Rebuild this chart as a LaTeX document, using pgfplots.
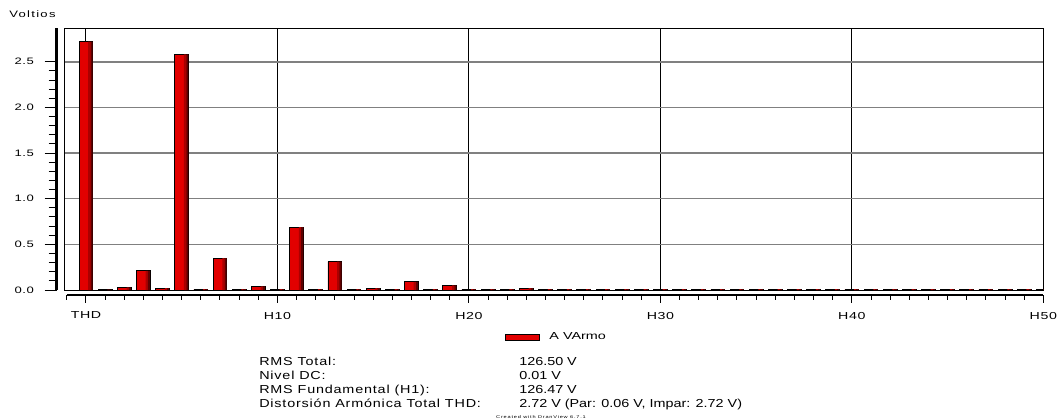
\documentclass[border=0pt]{standalone}
\usepackage{pgfplots}
\usepackage{pgfplotstable}
\pgfplotsset{compat=1.18}
\usepackage{fontspec}
\setmainfont{Liberation Sans}
\newfontfamily\tickfont[FakeStretch=1.4, LetterSpace=6]{Liberation Sans}
\newfontfamily\voltfont[FakeStretch=1.4, LetterSpace=14]{Liberation Sans}
\newfontfamily\statfont[FakeStretch=1.24]{Liberation Sans}
\newfontfamily\statlabfont[FakeStretch=1.24, LetterSpace=7]{Liberation Sans}
\newfontfamily\legfont[FakeStretch=1.42]{Liberation Sans}
\newfontfamily\tinyfont[FakeStretch=1.4, LetterSpace=20]{Liberation Sans}
\definecolor{barred}{RGB}{226,0,0}
\definecolor{bardk1}{RGB}{170,0,0}
\definecolor{bardk2}{RGB}{95,0,0}

\pgfplotstableread{
x y
0 2.72
1 0.005
2 0.03
3 0.21
4 0.02
5 2.58
6 0.01
7 0.35
8 0.01
9 0.04
10 0.01
11 0.69
12 0.01
13 0.31
14 0.01
15 0.02
16 0.01
17 0.09
18 0.01
19 0.05
20 0.01
21 0.01
22 0.01
23 0.02
24 0.01
25 0.01
26 0.01
27 0.01
28 0.01
29 0.01
30 0.01
31 0.01
32 0.01
33 0.01
34 0.01
35 0.01
36 0.01
37 0.01
38 0.01
39 0.01
40 0.01
41 0.01
42 0.01
43 0.01
44 0.01
45 0.01
46 0.01
47 0.01
48 0.01
49 0.01
50 0.01
}\harm

\begin{document}
\begin{tikzpicture}[x=0.75pt,y=-0.75pt]
\useasboundingbox (0,0) rectangle (1059,420);
% main plot area
\begin{axis}[
  at={(48.225pt,-217.5pt)}, anchor=south west, scale only axis,
  width=734.25pt, height=196.5pt,
  xmin=-1.13, xmax=50, ymin=0, ymax=2.87,
  axis line style={black, line width=0.75pt},
  xtick={0,10,20,30,40}, ytick={0.5,1,1.5,2,2.5},
  xticklabels={}, yticklabels={}, major tick length=0pt,
  xmajorgrids, ymajorgrids,
  x grid style={black, line width=0.75pt},
  y grid style={gray, line width=1.1pt},
  legend style={draw=none, fill=none, inner sep=0pt, at={(0.450,-0.181)}, anchor=west,
    font=\legfont\fontsize{7.6}{9}\selectfont,
    /tikz/every odd column/.append style={column sep=5pt}},
  legend image code/.code={\draw[black, fill=barred, line width=0.75pt] (0pt,-2.4pt) rectangle (25.5pt,2.4pt);},
]
\addplot[ybar, bar width=0.72, bar shift=0, draw=black, line width=0.6pt, fill=barred]
  table[x=x,y=y]{\harm};
\addlegendentry{A VArmo}
\addplot[ybar, forget plot, bar width=0.12, bar shift=0.18, draw=none, fill=bardk1]
  table[x=x,y=y]{\harm};
\addplot[ybar, forget plot, bar width=0.11, bar shift=0.295, draw=none, fill=bardk2]
  table[x=x,y=y]{\harm};
\end{axis}
% y ruler
\begin{axis}[
  at={(42.4pt,-217.5pt)}, anchor=south west, scale only axis,
  width=1pt, height=196.5pt, xmin=0, xmax=1, ymin=0, ymax=2.87,
  axis x line=none, axis y line*=left,
  y axis line style={line width=2.6pt, -},
  ytick={0,0.5,...,2.5}, minor y tick num=4,
  tick align=outside, major tick length=9pt, minor tick length=6pt,
  tick style={black, line width=0.75pt},
  yticklabel style={font=\tickfont\fontsize{7}{8}\selectfont, xshift=-4.5pt,
    /pgf/number format/.cd, fixed, fixed zerofill, precision=1, assume math mode=true},
]
\end{axis}
% x ruler
\begin{axis}[
  at={(50.1pt,-221.25pt)}, anchor=south west, scale only axis,
  width=732.4pt, height=1pt, xmin=-1, xmax=50, ymin=0, ymax=1,
  axis y line=none, axis x line*=bottom,
  x axis line style={line width=2.2pt, -},
  xtick={0,10,20,30,40,50}, xticklabels={THD,H10,H20,H30,H40,H50},
  minor xtick={-1,...,49},
  tick align=outside, major tick length=6pt, minor tick length=3.5pt,
  tick style={black, line width=0.75pt},
  xticklabel style={font=\tickfont\fontsize{7.6}{8}\selectfont, yshift=-3.2pt},
]
\end{axis}
\node[anchor=base west, inner sep=0pt, font=\voltfont\fontsize{7}{8}\selectfont] at (9,17.5) {Voltios};
\begin{scope}[every node/.style={anchor=base west, inner sep=0pt, font=\statlabfont\fontsize{8.7}{10}\selectfont}]
\node at (259,365.7) {RMS Total:};
\node at (259,379.3) {Nivel DC:};
\node at (259,393) {RMS Fundamental (H1):};
\node at (259,407.5) {Distorsión Armónica Total THD:};
\end{scope}
\begin{scope}[every node/.style={anchor=base west, inner sep=0pt, font=\statfont\fontsize{8.7}{10}\selectfont}]
\node at (519,365.7) {126.50 V};
\node at (519,379.3) {0.01 V};
\node at (519,393) {126.47 V};
\node at (519,407.5) {2.72 V (Par: 0.06 V, Impar: 2.72 V)};
\end{scope}
\node[anchor=center, inner sep=0pt, font=\tinyfont\fontsize{3}{3}\selectfont] at (541,417.5) {Created with DranView 6.7.1};
\end{tikzpicture}
\end{document}
